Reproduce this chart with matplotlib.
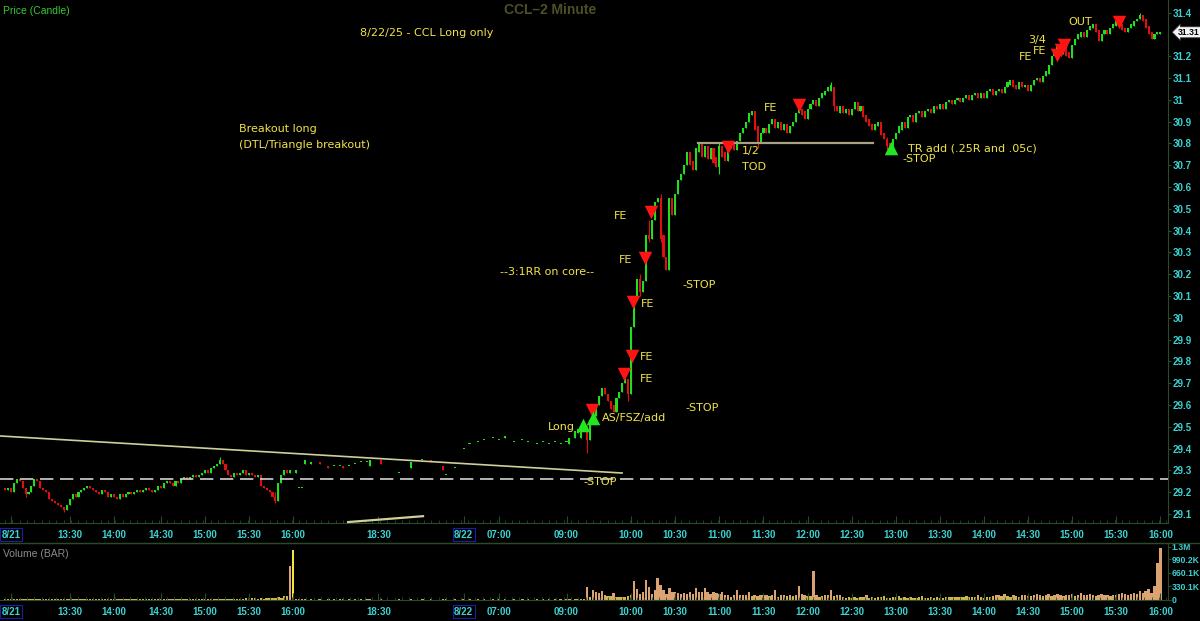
import numpy as np
import matplotlib
matplotlib.use("Agg")
import matplotlib.pyplot as plt
from matplotlib.ticker import MultipleLocator
from matplotlib.transforms import blended_transform_factory
from matplotlib.lines import Line2D

# ---------------- data ----------------
# Day 1 (8/21) 2-minute closes from 12:46 (bar 0) to 15:58 (bar 96)
d1_first_open = 29.22
d1_close = [29.21, 29.22, 29.20, 29.24, 29.26, 29.25, 29.22, 29.19, 29.20, 29.23,
            29.26, 29.25, 29.22, 29.21, 29.20, 29.17, 29.16, 29.15, 29.14, 29.13,
            29.12, 29.14, 29.17, 29.19, 29.18, 29.20, 29.21, 29.22, 29.23, 29.22,
            29.21, 29.20, 29.19, 29.21, 29.20, 29.18, 29.19, 29.18, 29.17, 29.19,
            29.18, 29.19, 29.20, 29.19, 29.20, 29.21, 29.20, 29.21, 29.22, 29.21,
            29.20, 29.21, 29.23, 29.22, 29.24, 29.25, 29.24, 29.23, 29.25, 29.24,
            29.26, 29.27, 29.26, 29.27, 29.28, 29.27, 29.28, 29.29, 29.30, 29.29,
            29.31, 29.32, 29.33, 29.35, 29.33, 29.30, 29.28, 29.27, 29.29, 29.28,
            29.29, 29.30, 29.28, 29.29, 29.28, 29.27, 29.28, 29.23, 29.22, 29.21,
            29.20, 29.18, 29.16, 29.24, 29.28, 29.30, 29.29]
d1_vol_k = [8, 7, 8, 9, 8, 7, 8, 9, 7, 8, 8, 7, 3, 3, 3, 3, 6, 6, 5, 6,
            6, 7, 6, 5, 6, 6, 7, 6, 6, 3, 3, 6, 6, 5, 6, 7, 6, 6, 5, 6,
            6, 7, 6, 6, 5, 6, 3, 3, 3, 3, 6, 7, 6, 8, 7, 6, 8, 7, 9, 8,
            7, 9, 8, 10, 9, 8, 10, 9, 8, 15, 14, 16, 15, 22, 24, 20, 22, 12, 13, 11,
            12, 13, 25, 24, 26, 25, 18, 35, 20, 30, 40, 25, 38, 60, 40, 75, 85]

# After-hours (8/21) and pre-market (8/22) sparse prints
ext_idx = [97, 98, 99, 100, 101, 102, 104, 107, 110, 112, 114, 115, 117, 119, 121,
           123, 124, 128, 134, 138, 142, 145, 149, 150, 153, 156, 158, 161, 163, 166,
           168, 170, 173, 176, 178, 181, 183, 185, 187, 189, 191, 192, 194, 195]
ext_open = [29.29, 29.30, 29.29, 29.22, 29.22, 29.33, 29.33, 29.34, 29.32, 29.32, 29.32,
            29.32, 29.32, 29.33, 29.34, 29.34, 29.32, 29.35, 29.29, 29.31, 29.35, 29.35,
            29.32, 29.28, 29.31, 29.40, 29.42, 29.43, 29.44, 29.45, 29.44, 29.45, 29.43,
            29.44, 29.43, 29.42, 29.43, 29.42, 29.43, 29.42, 29.43, 29.42, 29.45, 29.47]
ext_close = [29.30, 29.30, 29.30, 29.22, 29.22, 29.35, 29.34, 29.33, 29.31, 29.32, 29.32,
             29.31, 29.32, 29.33, 29.34, 29.34, 29.35, 29.33, 29.29, 29.34, 29.35, 29.34,
             29.30, 29.28, 29.31, 29.40, 29.42, 29.43, 29.44, 29.45, 29.44, 29.46, 29.43,
             29.44, 29.43, 29.42, 29.43, 29.42, 29.43, 29.42, 29.43, 29.45, 29.48, 29.49]
ext_vol_k = [820, 1230] + [3] * 42

# Day 2 (8/22) bars from index 196
d2_start = 196
d2_open = [29.45, 29.48, 29.50, 29.44, 29.53, 29.55, 29.60, 29.64, 29.68, 29.65,
           29.62, 29.60, 29.57, 29.63, 29.66, 29.70, 29.72, 29.65, 29.96, 30.08,
           30.18, 30.12, 30.17, 30.38, 30.36, 30.45, 30.53, 30.55, 30.38, 30.28,
           30.22, 30.55, 30.47, 30.57, 30.63, 30.66, 30.70, 30.76, 30.72, 30.68,
           30.76, 30.80, 30.74, 30.79, 30.73, 30.78, 30.74, 30.69, 30.79, 30.76,
           30.72, 30.78, 30.80, 30.77, 30.81, 30.85, 30.87, 30.90, 30.93, 30.95,
           30.88, 30.80, 30.85, 30.87, 30.85, 30.89, 30.91, 30.87, 30.90, 30.86,
           30.89, 30.85, 30.88, 30.90, 30.94, 30.96, 30.95, 30.91, 30.96, 30.98,
           31.00, 30.97, 31.01, 31.02, 31.04, 31.04, 31.06, 30.97, 30.94, 30.97,
           30.94, 30.96, 30.93, 30.96, 30.99, 30.95, 30.97, 30.93, 30.91, 30.89,
           30.86, 30.88, 30.90, 30.85, 30.82, 30.80, 30.78, 30.82, 30.85, 30.86,
           30.90, 30.87, 30.92, 30.93, 30.90, 30.94, 30.95, 30.92, 30.95, 30.96,
           30.94, 30.97, 30.96, 30.98, 30.96, 30.99, 31.00, 30.98, 31.00, 31.01,
           30.99, 31.01, 31.02, 31.00, 31.02, 31.03, 31.01, 31.03, 31.01, 31.04,
           31.05, 31.02, 31.04, 31.05, 31.03, 31.06, 31.07, 31.09, 31.07, 31.05,
           31.08, 31.06, 31.07, 31.04, 31.07, 31.09, 31.10, 31.08, 31.11, 31.12,
           31.16, 31.20, 31.22, 31.25, 31.21, 31.25, 31.22, 31.19, 31.25, 31.28,
           31.29, 31.31, 31.29, 31.32, 31.33, 31.35, 31.32, 31.27, 31.30, 31.32,
           31.30, 31.33, 31.34, 31.36, 31.35, 31.33, 31.31, 31.33, 31.34, 31.36,
           31.37, 31.39, 31.37, 31.34, 31.31, 31.28, 31.30, 31.30]
d2_close = [29.48, 29.49, 29.44, 29.53, 29.55, 29.60, 29.64, 29.68, 29.65, 29.62,
            29.58, 29.57, 29.63, 29.66, 29.70, 29.72, 29.65, 29.96, 30.08, 30.18,
            30.12, 30.17, 30.38, 30.36, 30.45, 30.53, 30.55, 30.36, 30.28, 30.22,
            30.55, 30.47, 30.57, 30.63, 30.66, 30.70, 30.76, 30.70, 30.68, 30.78,
            30.80, 30.74, 30.79, 30.73, 30.78, 30.71, 30.69, 30.79, 30.74, 30.72,
            30.78, 30.80, 30.77, 30.81, 30.85, 30.87, 30.90, 30.94, 30.95, 30.86,
            30.80, 30.85, 30.87, 30.85, 30.89, 30.91, 30.87, 30.90, 30.86, 30.89,
            30.85, 30.88, 30.90, 30.94, 30.96, 30.93, 30.91, 30.96, 30.98, 31.00,
            30.97, 31.01, 31.03, 31.04, 31.06, 31.07, 30.97, 30.95, 30.97, 30.94,
            30.96, 30.93, 30.96, 30.99, 30.95, 30.97, 30.92, 30.90, 30.88, 30.86,
            30.89, 30.90, 30.84, 30.82, 30.79, 30.78, 30.82, 30.85, 30.88, 30.90,
            30.87, 30.92, 30.93, 30.90, 30.94, 30.95, 30.92, 30.95, 30.96, 30.94,
            30.97, 30.96, 30.98, 30.96, 30.99, 31.00, 30.98, 31.00, 31.01, 30.99,
            31.01, 31.02, 31.00, 31.02, 31.03, 31.01, 31.03, 31.01, 31.04, 31.05,
            31.02, 31.04, 31.05, 31.03, 31.06, 31.08, 31.09, 31.06, 31.05, 31.08,
            31.06, 31.07, 31.04, 31.07, 31.09, 31.10, 31.08, 31.11, 31.13, 31.16,
            31.20, 31.22, 31.25, 31.21, 31.25, 31.20, 31.19, 31.25, 31.28, 31.30,
            31.31, 31.29, 31.32, 31.34, 31.35, 31.31, 31.27, 31.30, 31.32, 31.30,
            31.33, 31.35, 31.36, 31.34, 31.32, 31.31, 31.33, 31.35, 31.36, 31.37,
            31.39, 31.36, 31.33, 31.30, 31.28, 31.30, 31.31, 31.31]
d2_vol_k = [3, 3,
            300, 70, 230, 190, 150, 200, 120, 80, 85, 160, 70, 65, 60, 70, 80, 120,
            460, 260, 140, 180, 490, 300, 140, 240, 530, 360, 240, 140, 280, 190, 190, 160,
            130, 160, 140, 180, 140, 280, 180, 180, 280, 180, 140, 190, 160, 130, 180, 120,
            100, 65, 110, 240, 120, 105, 120, 190, 80, 120, 80, 105, 120, 120, 80, 120,
            230, 65, 100, 120, 80, 110, 80, 100, 340, 140, 100, 80, 90, 700, 120, 65,
            80, 100, 120, 240, 80, 105, 120, 60, 45, 50, 40, 55, 45, 60, 50, 100,
            45, 60, 40, 55, 50, 80, 45, 40, 50, 55, 90, 40, 50, 45, 60, 35,
            40, 55, 90, 40, 35, 50, 45, 60, 40, 45, 55, 60, 50, 65, 70, 60,
            55, 80, 60, 50, 65, 110, 55, 45, 60, 70, 80, 110, 110, 90, 130, 80,
            70, 110, 90, 60, 120, 110, 80, 90, 120, 130, 100, 80, 110, 130, 90, 120,
            130, 110, 90, 120, 110, 130, 90, 100, 150, 120, 100, 130, 100, 90, 110, 130,
            120, 110, 80, 120, 110, 130, 150, 130, 120, 140, 150, 130, 200, 150, 200, 260,
            160, 340, 900, 1270]

# wick extremes: bar index -> (high, low)
wicks = {7: (29.21, 29.18), 20: (29.13, 29.11), 73: (29.36, 29.33), 92: (29.20, 29.15),
         198: (29.51, 29.38), 212: (29.72, 29.62), 216: (30.20, 30.10), 219: (30.45, 30.35),
         223: (30.57, 30.35), 225: (30.28, 30.23), 243: (30.80, 30.66), 256: (30.88, 30.78),
         281: (31.08, 31.04), 282: (31.06, 30.95), 300: (30.83, 30.77), 386: (31.40, 31.37)}

# trade signals (bar index, price)
sell_idx = [199.7, 210.5, 213.3, 213.6, 217.7, 219.7, 245.9, 270.1, 357.8, 359.2, 360.2, 378.9]
sell_px = [29.577, 29.742, 29.825, 30.072, 30.274, 30.485, 30.783, 30.976, 31.205, 31.228, 31.251, 31.357]
buy_idx = [196.6, 200.0, 301.4]
buy_px = [29.508, 29.54, 30.779]

# trend lines
dtl_x, dtl_y = [-1.7, 209.9], [29.458, 29.288]
stop_level = 29.26
half_x, half_y = [235.7, 295.2], [30.80, 30.80]
low_line_x, low_line_y = [116.7, 142.2], [29.063, 29.09]
last_price = 31.31

tick_pos = [2, 22, 37, 53, 68, 83, 98, 127, 156, 168, 191, 213, 228, 243, 258, 273,
            288, 303, 318, 333, 348, 363, 378, 393]
tick_lab = ["8/21", "13:30", "14:00", "14:30", "15:00", "15:30", "16:00", "18:30", "8/22",
            "07:00", "09:00", "10:00", "10:30", "11:00", "11:30", "12:00", "12:30", "13:00",
            "13:30", "14:00", "14:30", "15:00", "15:30", "16:00"]
price_ticks = [29.1, 29.2, 29.3, 29.4, 29.5, 29.6, 29.7, 29.8, 29.9, 30.0, 30.1, 30.2,
               30.3, 30.4, 30.5, 30.6, 30.7, 30.8, 30.9, 31.0, 31.1, 31.2, 31.4]
vol_ticks = [0, 330.1e3, 660.1e3, 990.2e3, 1.3e6]
vol_tick_lab = ["0", "330.1K", "660.1K", "990.2K", "1.3M"]

annotations = [
    ("8/22/25 - CCL Long only", 120.7, 31.306, "left"),
    ("Breakout long", 79.6, 30.866, "left"),
    ("(DTL/Triangle breakout)", 79.6, 30.793, "left"),
    ("--3:1RR on core--", 168.4, 30.21, "left"),
    ("-STOP", 230.6, 30.15, "left"),
    ("-STOP", 231.3, 29.586, "left"),
    ("-STOP", 196.6, 29.247, "left"),
    ("Long", 193.9, 29.499, "right"),
    ("AS/FSZ/add", 203.0, 29.54, "left"),
    ("FE", 216.0, 29.72, "left"),
    ("FE", 216.0, 29.82, "left"),
    ("FE", 216.3, 30.063, "left"),
    ("FE", 208.8, 30.265, "left"),
    ("FE", 207.1, 30.467, "left"),
    ("1/2", 250.7, 30.765, "left"),
    ("TOD", 250.7, 30.692, "left"),
    ("FE", 258.2, 30.962, "left"),
    ("TR add (.25R and .05c)", 307.1, 30.779, "left"),
    ("-STOP", 305.4, 30.728, "left"),
    ("3/4", 348.0, 31.274, "left"),
    ("FE", 349.7, 31.224, "left"),
    ("FE", 344.9, 31.196, "left"),
    ("OUT", 361.6, 31.357, "left"),
]

# ---------------- assemble bars ----------------
d1_open = [d1_first_open] + d1_close[:-1]
idx = list(range(len(d1_close))) + ext_idx + list(range(d2_start, d2_start + len(d2_close)))
opens = np.array(d1_open + ext_open + d2_open, dtype=float)
closes = np.array(d1_close + ext_close + d2_close, dtype=float)
vols = np.array(d1_vol_k + ext_vol_k + d2_vol_k, dtype=float) * 1000
idx = np.array(idx, dtype=float)
highs = np.maximum(opens, closes)
lows = np.minimum(opens, closes)
for k, (h, l) in wicks.items():
    m = np.where(idx == k)[0]
    if len(m):
        highs[m[0]] = max(highs[m[0]], h)
        lows[m[0]] = min(lows[m[0]], l)

FONT = "Liberation Sans"
BG = "#000000"
UP = "#1fe01f"
DN = "#e01010"
AXC = "#2a4a2a"
TICKC = "#3cd2d2"
TXT = "#f0e448"

fig = plt.figure(figsize=(12, 6.21), dpi=100, facecolor=BG)
W, H = 1200, 621
ax = fig.add_axes([0, 1 - 523 / H, 1168 / W, 523 / H], facecolor=BG)
vax = fig.add_axes([0, 1 - 600 / H, 1168 / W, 57 / H], facecolor=BG)

xmin, xmax = -1.7, 395.6
for a in (ax, vax):
    a.set_xlim(xmin, xmax)
    for s in ("top", "left"):
        a.spines[s].set_visible(False)
    a.spines["bottom"].set_color(AXC)
    a.spines["right"].set_color(AXC)
    a.yaxis.tick_right()
    a.set_xticks(tick_pos)
    a.set_xticklabels(tick_lab)
    a.xaxis.set_minor_locator(MultipleLocator(2.5))
    a.tick_params(axis="x", which="major", direction="in", length=5, color=AXC,
                  labelcolor=TICKC, labelsize=7, pad=5)
    a.tick_params(axis="x", which="minor", direction="in", length=2, color=AXC)
    a.tick_params(axis="y", which="major", direction="out", length=2, color=AXC,
                  labelcolor=TICKC, labelsize=7, pad=1.2)
vax.tick_params(axis="y", labelsize=6.2, pad=0.8)
vax.spines["top"].set_visible(True)
vax.spines["top"].set_color(AXC)

ax.set_ylim(29.0587, 31.458)
ax.set_yticks(price_ticks)
ax.set_yticklabels([("%g" % p) for p in price_ticks])

# candles
up = closes >= opens
colors = np.where(up, UP, DN)
body = np.maximum(np.abs(closes - opens), 0.004)
ax.vlines(idx, lows, highs, colors=colors, linewidth=0.8, zorder=2)
ax.bar(idx, body, bottom=np.minimum(opens, closes), width=0.7, color=colors,
       linewidth=0, zorder=3)

# lines
ax.plot(dtl_x, dtl_y, color="#cfcf9a", lw=1.2, zorder=4)
ax.axhline(stop_level, color="#d2d2d2", lw=1.2, ls=(0, (8, 4)), zorder=4)
ax.plot(half_x, half_y, color="#a9a184", lw=1.6, zorder=4)
ax.plot(low_line_x, low_line_y, color="#cfcf9a", lw=1.6, zorder=4, clip_on=False)

# signals
ax.scatter(sell_idx, sell_px, marker="v", s=95, color="#ff1414", linewidths=0, zorder=6)
ax.scatter(buy_idx, buy_px, marker="^", s=95, color="#22e622", linewidths=0, zorder=6)

for txt, xx, yy, ha in annotations:
    ax.text(xx, yy, txt, color=TXT, fontsize=8, ha=ha, va="center", zorder=7,
            family="DejaVu Sans")

# last price tag
tr = blended_transform_factory(ax.transAxes, ax.transData)
ax.text(1.0085, last_price, "%.2f" % last_price, transform=tr, fontsize=6.2, color="black",
        fontweight="bold", va="center", ha="left", family=FONT,
        bbox=dict(boxstyle="larrow,pad=0.12", fc="#f4f4f4", ec="#303030", lw=0.6),
        zorder=8, clip_on=False)

# volume
vcol = np.where(vols >= 100e3, "#dca372", "#cdb74a")
vcol[np.argmax(np.where(idx < 150, vols, 0))] = "#f5e63a"
vax.bar(idx, vols, width=0.8, color=vcol, linewidth=0)
vax.set_ylim(-12000, 1391000)
vax.set_yticks(vol_ticks)
vax.set_yticklabels(vol_tick_lab)

# tick label fonts and date boxes
for a in (ax, vax):
    for lbl in a.get_xticklabels() + a.get_yticklabels():
        lbl.set_fontfamily(FONT)
        lbl.set_fontweight("bold")
    for lbl in a.get_xticklabels():
        if "/" in lbl.get_text():
            lbl.set_bbox(dict(boxstyle="square,pad=0.15", fc="none", ec="#1c1ca8", lw=0.8))

# separator line & titles
fig.add_artist(Line2D([0, 1], [1 - 543 / H, 1 - 543 / H], color=AXC, lw=1.0))
fig.text(550 / W, 1 - 10 / H, "CCL\u20132 Minute", color="#4f4f26", fontsize=10,
         fontweight="bold", ha="center", va="center", family=FONT)
fig.text(3 / W, 1 - 11 / H, "Price (Candle)", color="#37c837", fontsize=7.5,
         ha="left", va="center", family=FONT)
fig.text(3 / W, 1 - 554 / H, "Volume (BAR)", color="#8c8c8c", fontsize=7.5,
         ha="left", va="center", family=FONT)

fig.savefig("out.png", dpi=100, facecolor=BG)
